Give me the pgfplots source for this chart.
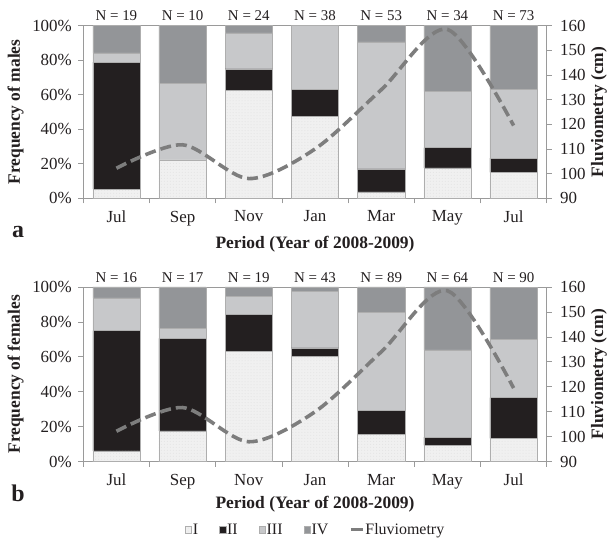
\documentclass[border=0pt]{standalone}
\usepackage{fontspec}
\setmainfont{Liberation Serif}
\usepackage{pgfplots}
\usepackage{pgfplotstable}
\pgfplotsset{compat=1.18}
\usetikzlibrary{patterns}
\definecolor{cI}{HTML}{F0F0F0}
\definecolor{cII}{HTML}{231F20}
\definecolor{cIII}{HTML}{C7C8CA}
\definecolor{cIV}{HTML}{939598}
\definecolor{axgray}{HTML}{9A9A9A}
\definecolor{bargray}{HTML}{AEAEAE}
\definecolor{linegray}{HTML}{7D7D7D}
\definecolor{txt}{HTML}{231F20}

\pgfplotstableread{
x I II III IV
0 5.26 73.68 5.26 15.79
1 22.22 0 44.44 33.33
2 62.5 12.5 20.83 4.17
3 47.37 15.79 36.84 0
4 3.77 13.21 73.58 9.43
5 17.65 11.76 32.35 38.24
6 15.07 8.22 39.73 36.99
}\males
\pgfplotstableread{
x I II III IV
0 6.25 68.75 18.75 6.25
1 17.65 52.94 5.88 23.53
2 63.16 21.05 10.53 5.26
3 60.47 4.65 32.56 2.33
4 15.73 13.48 56.18 14.61
5 9.38 4.69 50.00 35.94
6 13.33 23.33 33.33 30.00
}\females
\pgfplotstableread{
x f
0 102.2
1 111.7
2 98.0
3 110.0
4 134.0
5 158.5
6 119.5
}\fluv

\tikzset{nlab/.style={font=\fontsize{15}{18}\selectfont, text=txt, anchor=center}}
\pgfplotsset{
  common/.style={
    scale only axis, width=463.4bp,
    xmin=-0.5, xmax=6.5,
    axis line style={axgray, line width=0.8pt},
    tick align=outside,
    major tick length=5bp, minor tick length=5bp,
    tick label style={font=\fontsize{17}{20}\selectfont, text=txt},
    clip=false,
  },
  barax/.style={
    common,
    ymin=0, ymax=100,
    ybar stacked, bar width=0.714,
    xtick={0,...,6}, xticklabels={Jul,Sep,Nov,Jan,Mar,May,Jul},
    minor xtick={-0.5,0.5,...,6.5},
    xtick pos=bottom, ytick pos=left,
    x tick style={axgray, line width=0.8pt},
    major x tick style={draw=none},
    xticklabel style={yshift=-4bp},
    ytick={0,20,...,100}, yticklabels={0\%,20\%,40\%,60\%,80\%,100\%},
    yticklabel style={xshift=-3bp},
    y tick style={axgray, line width=0.8pt},
    legend image code/.code={\draw[##1] (0bp,-3bp) rectangle (6.5bp,3.5bp);},
  },
  fluvax/.style={
    common,
    ymin=90, ymax=160,
    axis x line=none, axis y line*=right,
    ytick={90,100,...,160}, yticklabels={90,100,110,120,130,140,150,160},
    yticklabel style={xshift=5bp},
    y tick style={axgray, line width=0.8pt},
  },
  flleg/.style={legend image code/.code={\draw[##1] (0bp,0bp) -- (12bp,0bp);}},
  sI/.style={fill=cI, draw=bargray, line width=0.5pt, postaction={pattern=dots, pattern color=gray!22}},
  sII/.style={fill=cII, draw=bargray, line width=0.5pt},
  sIII/.style={fill=cIII, draw=bargray, line width=0.5pt},
  sIV/.style={fill=cIV, draw=bargray, line width=0.5pt},
  fl/.style={linegray, line width=3.6pt, dash pattern=on 11bp off 5bp, smooth},
}

\begin{document}
\begin{tikzpicture}
\useasboundingbox (0,0) rectangle (609bp,543bp);

% ---------- panel a ----------
\begin{axis}[barax, height=172.6bp, at={(83.3bp,344.7bp)}, anchor=south west]
\addplot[sI] table[x=x,y=I]{\males};
\addplot[sII] table[x=x,y=II]{\males};
\addplot[sIII] table[x=x,y=III]{\males};
\addplot[sIV] table[x=x,y=IV]{\males};
\node[nlab] at (axis cs:0,106) {N = 19};
\node[nlab] at (axis cs:1,106) {N = 10};
\node[nlab] at (axis cs:2,106) {N = 24};
\node[nlab] at (axis cs:3,106) {N = 38};
\node[nlab] at (axis cs:4,106) {N = 53};
\node[nlab] at (axis cs:5,106) {N = 34};
\node[nlab] at (axis cs:6,106) {N = 73};
\end{axis}
\begin{axis}[fluvax, height=172.6bp, at={(83.3bp,344.7bp)}, anchor=south west]
\addplot[fl] table[x=x,y=f]{\fluv};
\end{axis}

% ---------- panel b ----------
\begin{axis}[barax, height=174.7bp, at={(83.3bp,81.3bp)}, anchor=south west,
  legend columns=5,
  legend style={at={(axis description cs:0.5,-0.39)}, anchor=center, draw=none,
    font=\fontsize{16}{19}\selectfont, text=txt, inner xsep=0pt,
    nodes={inner xsep=1bp},
    /tikz/every even column/.append style={column sep=20bp}},
  ]
\addplot[sI] table[x=x,y=I]{\females};
\addplot[sII] table[x=x,y=II]{\females};
\addplot[sIII] table[x=x,y=III]{\females};
\addplot[sIV] table[x=x,y=IV]{\females};
\addlegendimage{linegray, line width=3pt, flleg}
\legend{I,II,III,IV,Fluviometry}
\node[nlab] at (axis cs:0,105.5) {N = 16};
\node[nlab] at (axis cs:1,105.5) {N = 17};
\node[nlab] at (axis cs:2,105.5) {N = 19};
\node[nlab] at (axis cs:3,105.5) {N = 43};
\node[nlab] at (axis cs:4,105.5) {N = 89};
\node[nlab] at (axis cs:5,105.5) {N = 64};
\node[nlab] at (axis cs:6,105.5) {N = 90};
\end{axis}
\begin{axis}[fluvax, height=174.7bp, at={(83.3bp,81.3bp)}, anchor=south west]
\addplot[fl] table[x=x,y=f]{\fluv};
\end{axis}

% ---------- labels ----------
\begin{scope}[every node/.style={font=\bfseries\fontsize{17.5}{21}\selectfont, text=txt}]
\node[rotate=90] at (15.5bp,431bp) {Frequency of males};
\node[rotate=90] at (15.5bp,168.7bp) {Frequency of females};
\node[rotate=90] at (599bp,431bp) {Fluviometry (cm)};
\node[rotate=90] at (599bp,168.7bp) {Fluviometry (cm)};
\node at (315bp,299bp) {Period (Year of 2008-2009)};
\node at (315bp,39bp) {Period (Year of 2008-2009)};
\end{scope}
\node[font=\bfseries\fontsize{24}{28}\selectfont, text=txt] at (18bp,311bp) {a};
\node[font=\bfseries\fontsize{24}{28}\selectfont, text=txt] at (18bp,50bp) {b};
\end{tikzpicture}
\end{document}
